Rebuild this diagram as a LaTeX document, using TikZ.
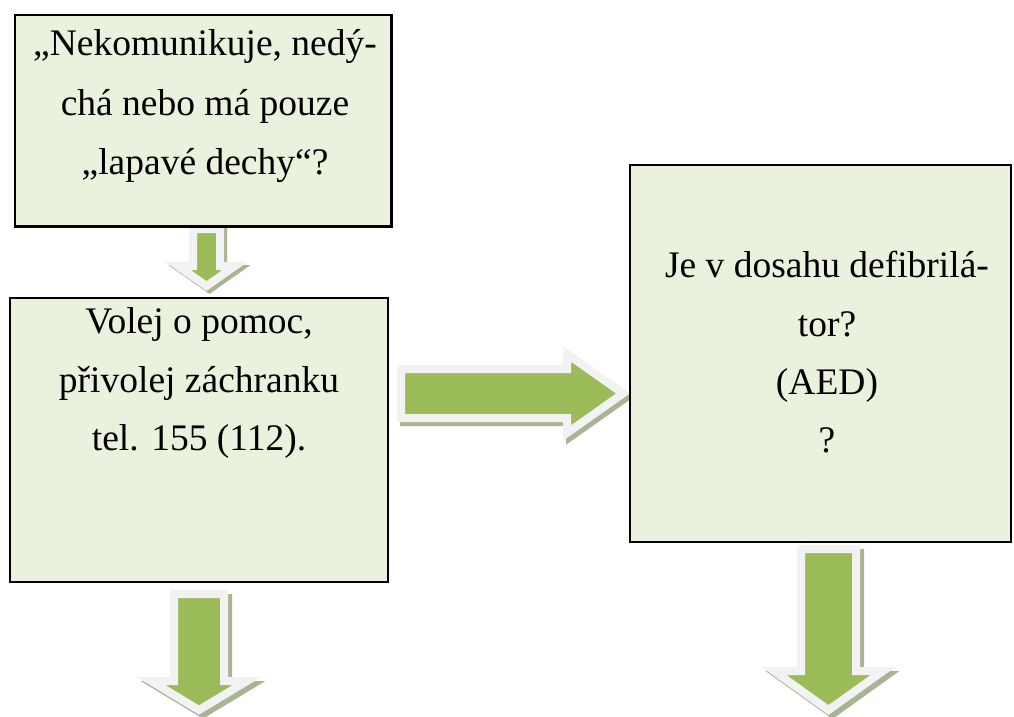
\documentclass[tikz,border=0pt]{standalone}
\usepackage{fontspec}
\setmainfont{Liberation Serif}
\definecolor{boxfill}{RGB}{234,241,221}
\definecolor{arrowgreen}{RGB}{155,187,89}
\definecolor{arrowring}{RGB}{242,242,242}
\definecolor{arrowshade}{RGB}{168,180,148}
\newcommand\shadowedarrow[2]{%
  \path[arrowshadow, shift={#1}] #2;
  \path[arrowbody] #2;}
\begin{document}
\begin{tikzpicture}[x=1pt, y=-1pt,
  flowbox/.style={draw=black, line width=2.5pt, fill=boxfill, outer sep=0pt, inner sep=0pt, anchor=north west},
  boxtext/.style={font=\fontsize{37.5}{45}\selectfont, inner sep=0pt, anchor=base},
  arrowbody/.style={fill=arrowgreen, draw=arrowring, line width=8pt, line join=miter, miter limit=10},
  arrowshadow/.style={fill=arrowshade, draw=arrowshade, line width=8pt, line join=miter, miter limit=10}]
\useasboundingbox (0,0) rectangle (1014,716);
\fill[white] (0,0) rectangle (1014,716);

% block arrows (drawn below the boxes)
\shadowedarrow{(3,3)}{(193,229) -- (193,266) -- (178,266) -- (206.5,286) -- (235,266) -- (220,266) -- (220,229) -- cycle}
\shadowedarrow{(3,4)}{(401,369) -- (567,369) -- (567,354) -- (623,393.5) -- (567,433) -- (567,418) -- (401,418) -- cycle}
\shadowedarrow{(4,4)}{(174,594) -- (174,681) -- (151,681) -- (199,710) -- (247,681) -- (224,681) -- (224,594) -- cycle}
\shadowedarrow{(4,4)}{(801,549) -- (801,671) -- (774,671) -- (828.5,710) -- (883,671) -- (856,671) -- (856,549) -- cycle}

% boxes
\node[flowbox, minimum width=376.5pt, minimum height=211.5pt] (b1) at (15,15) {};
\node[flowbox, minimum width=378pt, minimum height=284pt] (b2) at (10,298) {};
\node[flowbox, minimum width=381pt, minimum height=377pt] (b3) at (630,165) {};

% texts
\node[boxtext] (t1a) at (205,55) {„Nekomunikuje, nedý-};
\node[boxtext] (t1b) at (205,115) {chá nebo má pouze};
\node[boxtext] (t1c) at (205,174) {„lapavé dechy“?};

\node[boxtext] (t2a) at (199,333) {Volej o pomoc,};
\node[boxtext] (t2b) at (199,392) {přivolej záchranku};
\node[boxtext] (t2c) at (199,450) {tel. 155 (112).};

\node[boxtext] (t3a) at (827,277) {Je v dosahu defibrilá-};
\node[boxtext] (t3b) at (827,336) {tor?};
\node[boxtext] (t3c) at (827,394) {(AED)};
\node[boxtext] (t3d) at (827,452) {?};
\end{tikzpicture}
\end{document}
